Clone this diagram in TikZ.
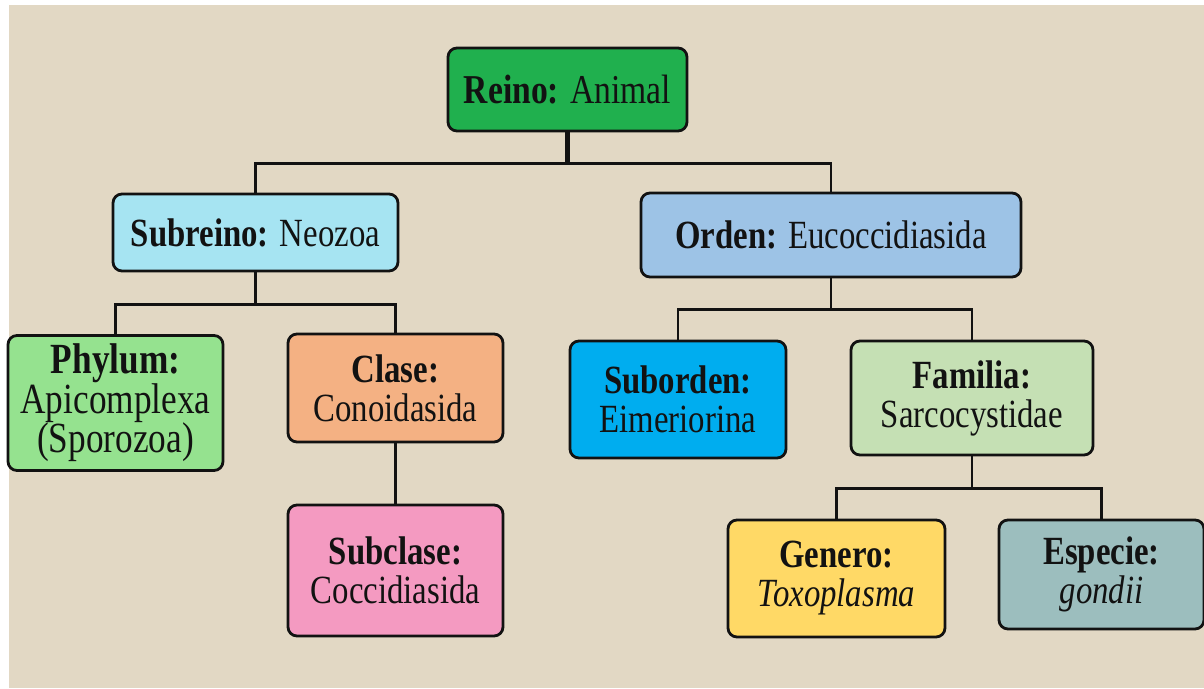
\documentclass[tikz,border=0pt]{standalone}
\usepackage{fontspec}
\setmainfont{Liberation Serif}[FakeStretch=0.82]
\definecolor{bgpaper}{HTML}{E2D8C4}
\definecolor{cReino}{HTML}{20B04E}
\definecolor{cSubreino}{HTML}{A6E4F2}
\definecolor{cOrden}{HTML}{9DC3E6}
\definecolor{cPhylum}{HTML}{95E28F}
\definecolor{cClase}{HTML}{F4B183}
\definecolor{cSubclase}{HTML}{F49AC1}
\definecolor{cSuborden}{HTML}{00ADEF}
\definecolor{cFamilia}{HTML}{C5E0B4}
\definecolor{cGenero}{HTML}{FFD966}
\definecolor{cEspecie}{HTML}{9CBEBE}
\definecolor{ink}{HTML}{121212}
\tikzset{
  taxbox/.style={draw=ink, line width=2.8pt, rounded corners=9pt, inner sep=0pt,
    align=center, text=ink, font=\fontsize{40}{39}\selectfont},
  link/.style={draw=ink, line width=2.8pt},
  stem/.style={draw=ink, line width=4.5pt},
}
\begin{document}
\begin{tikzpicture}[x=1pt,y=-1pt]
\useasboundingbox (0,0) rectangle (1204,688);
\fill[white] (0,0) rectangle (1204,688);
\fill[bgpaper] (9,5) rectangle (1204,688);

\node[taxbox, fill=cReino, minimum width=239pt, minimum height=83pt, font=\fontsize{41}{39}\selectfont] (reino) at (567.5,89.5) {\textbf{Reino:} Animal};
\node[taxbox, fill=cSubreino, minimum width=285pt, minimum height=77pt] (subreino) at (255.5,232.5) {\textbf{Subreino:} Neozoa};
\node[taxbox, fill=cOrden, minimum width=380pt, minimum height=84pt] (orden) at (831,235) {\textbf{Orden:} Eucoccidiasida};
\node[taxbox, fill=cPhylum, minimum width=215pt, minimum height=135pt, font=\fontsize{43}{39}\selectfont] (phylum) at (115.5,403) {\textbf{Phylum:}\\Apicomplexa\\(Sporozoa)};
\node[taxbox, fill=cClase, minimum width=215pt, minimum height=108pt] (clase) at (395.5,388) {\textbf{Clase:}\\Conoidasida};
\node[taxbox, fill=cSubclase, minimum width=215pt, minimum height=131pt] (subclase) at (395.5,570.5) {\textbf{Subclase:}\\Coccidiasida};
\node[taxbox, fill=cSuborden, minimum width=216pt, minimum height=117pt] (suborden) at (678,399.5) {\textbf{Suborden:}\\Eimeriorina};
\node[taxbox, fill=cFamilia, minimum width=242pt, minimum height=114pt] (familia) at (972,398) {\textbf{Familia:}\\Sarcocystidae};
\node[taxbox, fill=cGenero, minimum width=217pt, minimum height=117pt] (genero) at (836.5,578.5) {\textbf{Genero:}\\\textit{Toxoplasma}};
\node[taxbox, fill=cEspecie, minimum width=205pt, minimum height=109pt] (especie) at (1101.5,574.5) {\textbf{Especie:}\\\textit{gondii}};

% connectors
\draw[stem] (reino.south) -- ++(0,31) coordinate (j1);
\draw[link] (subreino.north) |- (j1) -| (orden.north);

\draw[link] (subreino.south) -- ++(0,32) coordinate (j2);
\draw[link] (phylum.north) |- (j2) -| (clase.north);

\draw[link] (clase.south) -- (subclase.north);

\draw[link] (orden.south) -- ++(0,31) coordinate (j3);
\draw[link] (suborden.north) |- (j3) -| (familia.north);

\draw[link] (familia.south) -- ++(0,32) coordinate (j4);
\draw[link] (genero.north) |- (j4) -| (especie.north);
\end{tikzpicture}
\end{document}
